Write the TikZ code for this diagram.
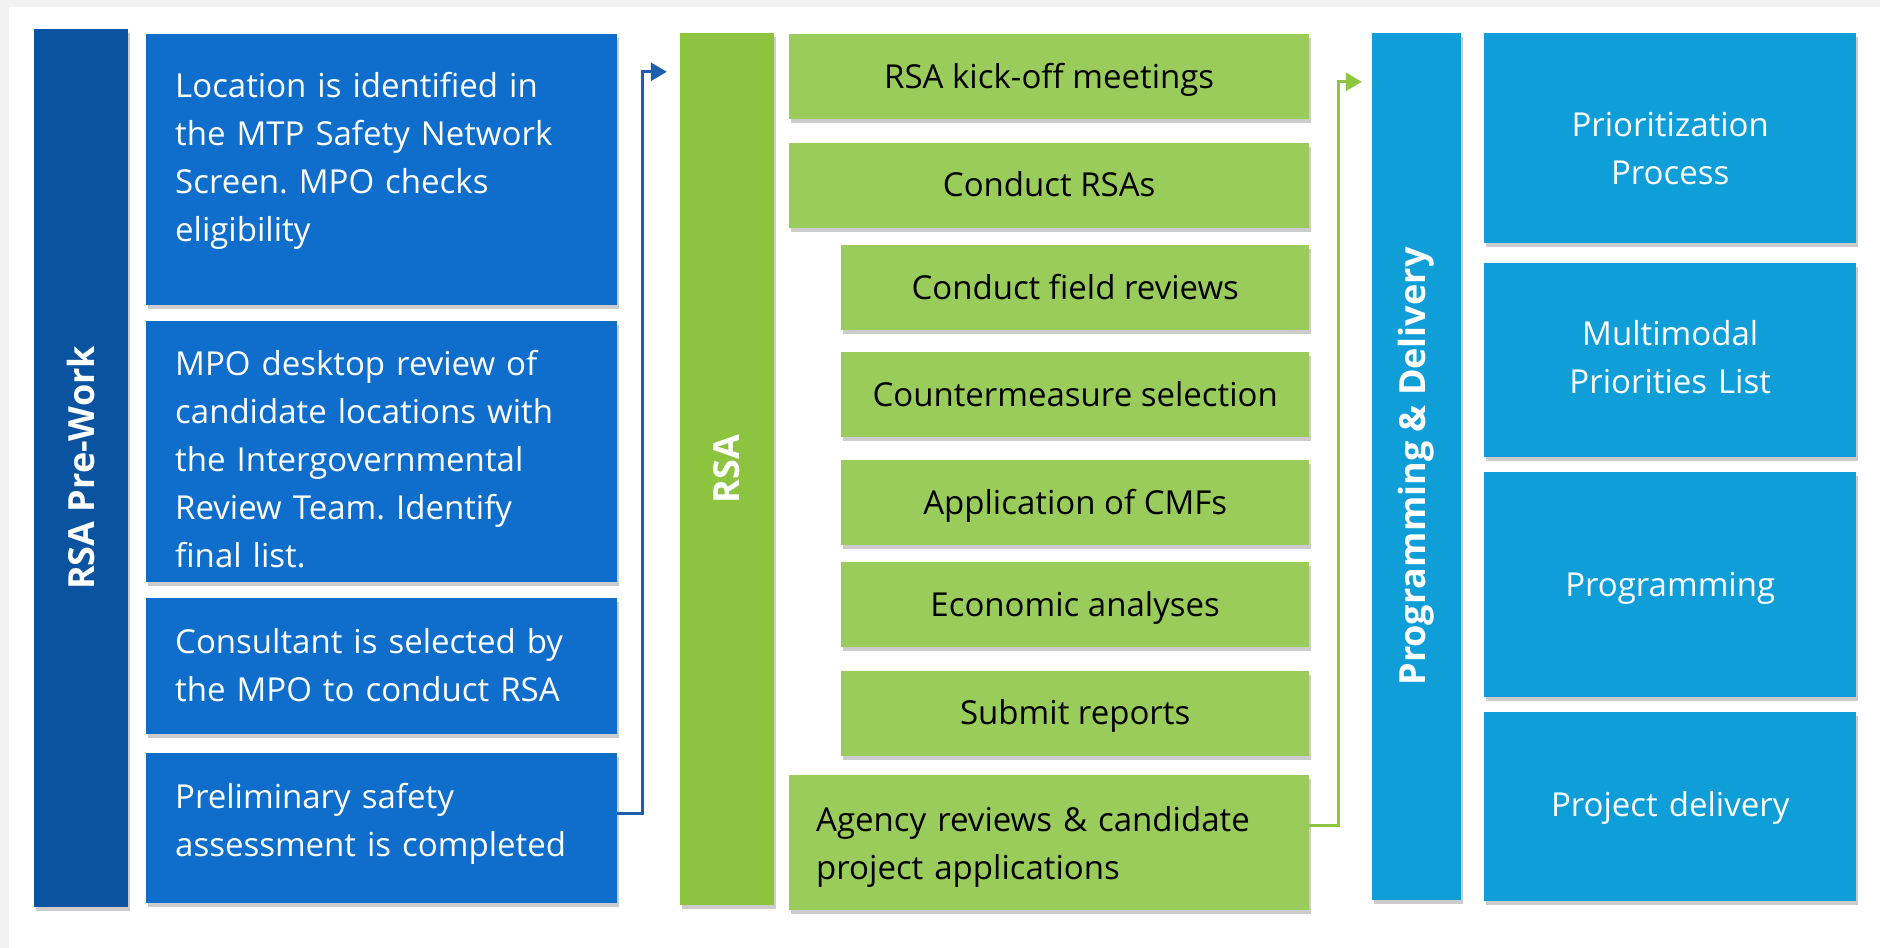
\documentclass[tikz,border=0pt]{standalone}
\usepackage{fontspec}
\setmainfont{Open Sans}
\usepackage{tikz}
\usetikzlibrary{positioning,shadows,arrows.meta}

\definecolor{bggray}{HTML}{F2F2F2}
\definecolor{preblue}{HTML}{0A53A0}
\definecolor{boxblue}{HTML}{0F6ECB}
\definecolor{rsagreen}{HTML}{8CC33F}
\definecolor{stepgreen}{HTML}{9ACC5B}
\definecolor{outblue}{HTML}{109ED8}
\definecolor{lineblue}{HTML}{1B5FAE}
\definecolor{linegreen}{HTML}{8DC640}

\begin{document}
\frenchspacing
\begin{tikzpicture}[x=1pt,y=-1pt,>={Triangle[length=16pt,width=18pt]},
		box/.style={rectangle, inner sep=0pt, text height=23.6pt, text depth=0pt, drop shadow={shadow xshift=2pt, shadow yshift=-4pt, opacity=.2, fill=black}},
		bar node/.style={box, minimum width=94pt},
		bar label/.style={rotate=90, text=white, inner sep=0pt, font=\fontsize{36}{40}\selectfont\bfseries},
		pre node/.style={box, fill=boxblue, text=white, inner xsep=29pt, text width=413pt, align=left, font=\fontsize{33}{48}\selectfont},
		step node/.style={box, fill=stepgreen, minimum width=468pt, minimum height=85pt, align=center, font=\fontsize{33}{48}\selectfont},
		out node/.style={box, fill=outblue, text=white, minimum width=372pt, text width=340pt, align=center, font=\fontsize{33}{48}\selectfont},
		blue line/.style={->, draw=lineblue, line width=3pt},
		green line/.style={->, draw=linegreen, line width=3pt}]

	\fill[bggray] (0,0) rectangle (1880,948);
	\fill[white] (9,7) rectangle (1880,948);
	\useasboundingbox (0,0) rectangle (1880,948);

	\node[bar node, fill=preblue, minimum height=878pt] (prework) at (81,468) {};
	\node[bar label] (preworklabel) at (prework.center) {RSA Pre-Work};
	\node[pre node, minimum height=271pt, text depth=168.6pt, anchor=north west] (locate) at (146,34) {Location is identified in\\the MTP Safety Network\\Screen. MPO checks\\eligibility};
	\node[pre node, minimum height=261pt, text depth=174.6pt] (desktop) [below=15pt of locate] {MPO desktop review of\\candidate locations with\\the Intergovernmental\\Review Team. Identify\\final list.};
	\node[pre node, minimum height=136pt, text depth=48.2pt] (consult) [below=16pt of desktop] {Consultant is selected by\\the MPO to conduct RSA};
	\node[pre node, minimum height=150pt, text depth=64.2pt] (prelim) [below=19pt of consult] {Preliminary safety\\assessment is completed};

	\node[bar node, fill=rsagreen, minimum height=872pt] (rsa) at (727,469) {};
	\node[bar label] (rsalabel) at (rsa.center) {RSA};
	\node[step node, minimum width=520pt, anchor=north west] (kickoff) at (789,34) {RSA kick-off meetings};
	\node[step node, minimum width=520pt] (conduct) [below=23pt of kickoff] {Conduct RSAs};
	\node[step node] (field) [below=17pt of conduct.south east, anchor=north east] {Conduct field reviews};
	\node[step node] (counter) [below=22pt of field] {Countermeasure selection};
	\node[step node] (cmf) [below=22pt of counter] {Application of CMFs};
	\node[step node] (econ) [below=17pt of cmf] {Economic analyses};
	\node[step node] (submit) [below=23pt of econ] {Submit reports};
	\node[step node, minimum width=520pt, minimum height=135pt, inner xsep=27pt, text width=466pt, text depth=46.6pt, align=left] (agency) [below=19pt of submit.south east, anchor=north east] {Agency reviews \& candidate\\project applications};

	\node[bar node, fill=outblue, minimum width=89pt, minimum height=867pt] (progdel) at (1416.5,466.5) {};
	\node[bar label] (progdellabel) at (progdel.center) {Programming \& Delivery};
	\node[out node, minimum height=210pt, text depth=27.6pt, anchor=north west] (prior) at (1484,33) {Prioritization\\Process};
	\node[out node, minimum height=194pt, text depth=51.6pt] (multi) [below=19pt of prior] {Multimodal\\Priorities List};
	\node[out node, minimum height=225pt] (program) [below=15pt of multi] {Programming};
	\node[out node, minimum height=189pt, text depth=4.6pt] (deliver) [below=15pt of program] {Project delivery};

	\coordinate (rsain) at ([xshift=-13pt,yshift=-39pt]rsa.north west);
	\coordinate (progdelin) at ([xshift=-10pt,yshift=-49pt]progdel.north west);

	\draw[blue line] ([yshift=15pt]prelim.east) -- ++(25,0) |- (rsain);
	\draw[green line] ([yshift=17.5pt]agency.east) -- ++(29,0) |- (progdelin);
\end{tikzpicture}
\end{document}
